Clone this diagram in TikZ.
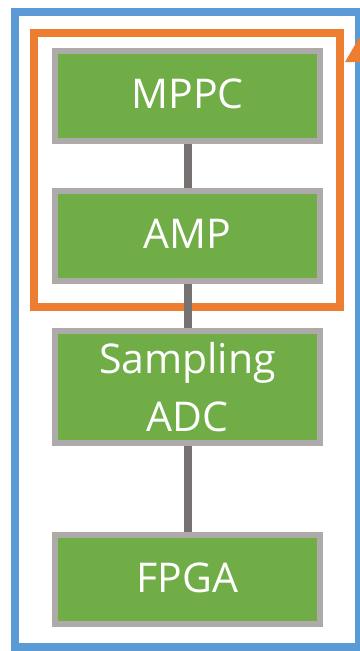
\documentclass[tikz,border=0pt]{standalone}
\usepackage{fontspec}
\setmainfont{Open Sans}
\usetikzlibrary{backgrounds}
\definecolor{boxgreen}{HTML}{70AD47}
\definecolor{boxgray}{HTML}{AEAAAA}
\definecolor{linkgray}{HTML}{767171}
\definecolor{frameorange}{HTML}{ED7D31}
\definecolor{frameblue}{HTML}{5B9BD5}
\begin{document}
\begin{tikzpicture}[x=1pt,y=-1pt,
  blockbox/.style={draw=boxgray,fill=boxgreen,line width=5.5pt,minimum width=265pt,
    text=white,align=center,inner sep=0pt,font=\fontsize{41}{58}\selectfont},
  link/.style={draw=linkgray,line width=8pt},
  frame/.style={line width=8pt}]
\useasboundingbox (0,0) rectangle (359,651);
\node[blockbox,minimum height=90pt,text depth=5pt] (mppc) at (187.5,96) {MPPC};
\node[blockbox,minimum height=90pt,text depth=5pt] (amp) at (187.5,236) {AMP};
\node[blockbox,minimum height=112pt] (adc) at (187.5,387) {Sampling\\ADC};
\node[blockbox,minimum height=89pt,text depth=4pt] (fpga) at (187.5,579.5) {FPGA};
\begin{scope}[on background layer]
\draw[frame,draw=frameblue] (15,12) rectangle (359,647);
\draw[frame,draw=frameorange] (34,33) rectangle (339.5,306.5);
\draw[link] (mppc.center) -- (amp.center);
\draw[link] (amp.center) -- (adc.center);
\draw[link] (adc.center) -- (fpga.center);
\end{scope}
\fill[frameorange] (345,62) -- (359,38) -- (373,62) -- cycle;
\end{tikzpicture}
\end{document}
